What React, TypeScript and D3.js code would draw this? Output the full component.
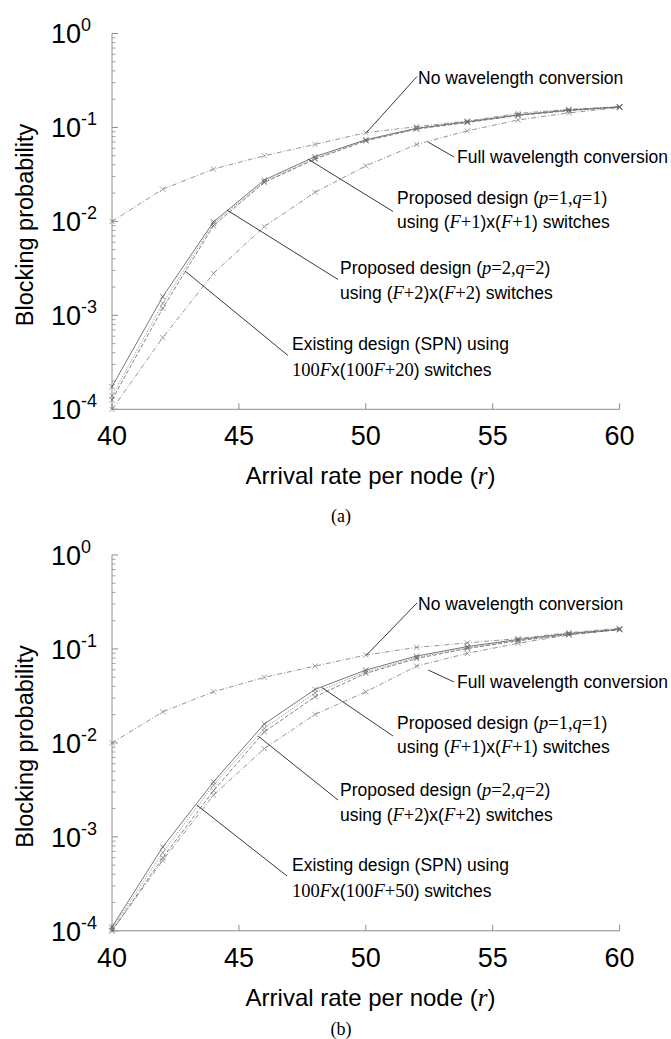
import React from 'react';
import * as d3 from 'd3';

// ---------- data ----------
const rates = [40, 42, 44, 46, 48, 50, 52, 54, 56, 58, 60];
const xTickValues = [40, 45, 50, 55, 60];
const yExponents = [-4, -3, -2, -1, 0];

// panel (a)
const noConvA = [0.0100, 0.0220, 0.0361, 0.0500, 0.0660, 0.0880, 0.1020, 0.1170, 0.1410, 0.1560, 0.1660];
const fullConvA = [0.000100, 0.00058, 0.0028, 0.0088, 0.0204, 0.0390, 0.0660, 0.0920, 0.1200, 0.1430, 0.1630];
const prop1A = [0.000174, 0.00158, 0.0099, 0.0276, 0.0489, 0.0740, 0.0980, 0.1150, 0.1360, 0.1530, 0.1660];
const prop2A = [0.000139, 0.00134, 0.0095, 0.0265, 0.0470, 0.0730, 0.0970, 0.1140, 0.1350, 0.1520, 0.1650];
const spnA = [0.000126, 0.00119, 0.0090, 0.0260, 0.0460, 0.0720, 0.0960, 0.1130, 0.1340, 0.1510, 0.1640];

// panel (b)
const noConvB = [0.0100, 0.0214, 0.0350, 0.0498, 0.0657, 0.0860, 0.1040, 0.1160, 0.1290, 0.1490, 0.1660];
const fullConvB = [0.000100, 0.00056, 0.00278, 0.0087, 0.0201, 0.0350, 0.0657, 0.0898, 0.1150, 0.1410, 0.1620];
const prop1B = [0.000110, 0.00078, 0.00385, 0.0159, 0.0371, 0.0596, 0.0840, 0.1060, 0.1260, 0.1460, 0.1620];
const prop2B = [0.000105, 0.00068, 0.00355, 0.0143, 0.0342, 0.0570, 0.0810, 0.1030, 0.1240, 0.1440, 0.1610];
const spnB = [0.000100, 0.00060, 0.00310, 0.0131, 0.0310, 0.0550, 0.0790, 0.1010, 0.1220, 0.1420, 0.1600];

// leader-line anchors on the curves (rate, probability)
const anchorsA = [[50.05, 0.0895], [52.45, 0.070], [47.72, 0.0461], [44.53, 0.0132], [42.88, 0.00296]];
const anchorsB = [[50.03, 0.0861], [52.46, 0.0596], [48.26, 0.039], [45.76, 0.0118], [43.34, 0.00218]];

// ---------- styles / layout ----------
const SANS = "'Liberation Sans', Arial, Helvetica, sans-serif";
const SERIF = "'Liberation Serif', 'Times New Roman', serif";
const AXIS = '#8c8c8c';

const seriesStyle = [
  { dash: '5,2,1,2', color: '#7a7a7a' }, // no conversion
  { dash: '5,2,1,2', color: '#7a7a7a' }, // full conversion
  { dash: '', color: '#555' },           // proposed p=1
  { dash: '1.2,1.5', color: '#777' },    // proposed p=2
  { dash: '4,2', color: '#666' },        // SPN
];

// annotation layout, relative to plot's left/top
type Ann = { tx: number; ty: number[]; lx: number; ly: number };
const layoutA: Ann[] = [
  { tx: 306, ty: [50.3], lx: 305, ly: 43 },
  { tx: 345, ty: [129.8], lx: 342, ly: 123.5 },
  { tx: 285, ty: [170.8, 194.8], lx: 281, ly: 178 },
  { tx: 228, ty: [240.3, 265.3], lx: 226, ly: 246 },
  { tx: 180, ty: [316.8, 342.8], lx: 176, ly: 322 },
];
const layoutB: Ann[] = [
  { tx: 306, ty: [55.3], lx: 305, ly: 48 },
  { tx: 345, ty: [133.3], lx: 342, ly: 127 },
  { tx: 285, ty: [173.8, 197.8], lx: 281, ly: 181 },
  { tx: 228, ty: [240.8, 265.8], lx: 226, ly: 245 },
  { tx: 180, ty: [316.3, 342.3], lx: 175, ly: 321 },
];

const W = 671;
const H = 1039;
const LEFT = 112;
const PW = 507.6;
const PH = 375.8;

function Ital({ children }: { children: React.ReactNode }) {
  return <tspan fontFamily={SERIF} fontStyle="italic" fontSize={18.5}>{children}</tspan>;
}
function Rom({ children }: { children: React.ReactNode }) {
  return <tspan fontFamily={SERIF} fontSize={18.5}>{children}</tspan>;
}

function Panel({ top, series, anchors, layout, label, labelOffset, spnExtra }: {
  top: number; series: number[][]; anchors: number[][]; layout: Ann[]; label: string; labelOffset: number; spnExtra: string;
}) {
  const x = d3.scaleLinear().domain([40, 60]).range([LEFT, LEFT + PW]);
  const y = d3.scaleLog().domain([1e-4, 1]).range([top + PH, top]);
  const line = d3.line<number>().x((_, i) => x(rates[i])).y((d) => y(d));
  const bottom = top + PH;

  const minor: number[] = [];
  for (let e = -4; e < 0; e++) for (let k = 2; k <= 9; k++) minor.push(k * Math.pow(10, e));

  const A = anchors.map((a) => [x(a[0]), y(a[1])]);
  const L = layout;

  const texts: React.ReactNode[][] = [
    [<>No wavelength conversion</>],
    [<>Full wavelength conversion</>],
    [
      <>Proposed design (<Ital>p</Ital><Rom>=1,</Rom><Ital>q</Ital><Rom>=1</Rom>)</>,
      <>using (<Ital>F</Ital><Rom>+1</Rom>)x(<Ital>F</Ital><Rom>+1</Rom>) switches</>,
    ],
    [
      <>Proposed design (<Ital>p</Ital><Rom>=2,</Rom><Ital>q</Ital><Rom>=2</Rom>)</>,
      <>using (<Ital>F</Ital><Rom>+2</Rom>)x(<Ital>F</Ital><Rom>+2</Rom>) switches</>,
    ],
    [
      <>Existing design (SPN) using</>,
      <><Rom>100</Rom><Ital>F</Ital>x(<Rom>100</Rom><Ital>F</Ital><Rom>{spnExtra}</Rom>) switches</>,
    ],
  ];

  return (
    <g>
      {/* axes */}
      <line x1={LEFT} x2={LEFT} y1={top} y2={bottom} stroke={AXIS} strokeWidth={1} />
      <line x1={LEFT} x2={LEFT + PW} y1={bottom} y2={bottom} stroke={AXIS} strokeWidth={1} />
      {minor.map((v, i) => (
        <line key={'m' + i} x1={LEFT} x2={LEFT + 3.5} y1={y(v)} y2={y(v)} stroke={AXIS} strokeWidth={0.8} />
      ))}
      {yExponents.map((e) => (
        <line key={'M' + e} x1={LEFT} x2={LEFT + 6} y1={y(Math.pow(10, e))} y2={y(Math.pow(10, e))} stroke={AXIS} strokeWidth={1} />
      ))}
      {xTickValues.map((t) => (
        <line key={'xt' + t} x1={x(t)} x2={x(t)} y1={bottom} y2={bottom - 6} stroke={AXIS} strokeWidth={1} />
      ))}
      {/* tick labels */}
      {yExponents.map((e) => (
        <text key={'yl' + e} x={51} y={y(Math.pow(10, e)) + 9.7} fontFamily={SANS} fontSize={27} fill="#000">
          10<tspan dy={-12} fontSize={18}>{e}</tspan>
        </text>
      ))}
      {xTickValues.map((t) => (
        <text key={'xl' + t} x={x(t)} y={bottom + 36} textAnchor="middle" fontFamily={SANS} fontSize={27} fill="#000">{t}</text>
      ))}
      {/* axis titles */}
      <text transform={`translate(33,${top + 191.5}) rotate(-90)`} textAnchor="middle" fontFamily={SANS} fontSize={23.5} fill="#000">
        Blocking probability
      </text>
      <text x={370.5} y={bottom + 75} textAnchor="middle" fontFamily={SANS} fontSize={24} fill="#000">
        Arrival rate per node (<tspan fontFamily={SERIF} fontStyle="italic" fontSize={25}>r</tspan>)
      </text>
      <text x={341} y={bottom + labelOffset} textAnchor="middle" fontFamily={SERIF} fontSize={18} fill="#000">{label}</text>

      {/* series */}
      {series.map((vals, si) => (
        <g key={'s' + si}>
          <path d={line(vals) || ''} fill="none" stroke={seriesStyle[si].color} strokeWidth={0.8}
            strokeDasharray={seriesStyle[si].dash || undefined} />
          {vals.map((v, i) => {
            const cx = x(rates[i]);
            const cy = y(v);
            const s = 2.6;
            return (
              <path key={i} d={`M${cx - s},${cy - s}L${cx + s},${cy + s}M${cx - s},${cy + s}L${cx + s},${cy - s}`}
                stroke={seriesStyle[si].color} strokeWidth={0.7} fill="none" />
            );
          })}
        </g>
      ))}

      {/* annotations */}
      <g stroke="#222" strokeWidth={0.9}>
        {L.map((a, i) => (
          <line key={'ld' + i} x1={A[i][0]} y1={A[i][1]} x2={LEFT + a.lx} y2={top + a.ly} />
        ))}
      </g>
      <g fontFamily={SANS} fontSize={17.5} fill="#000">
        {L.map((a, i) =>
          a.ty.map((ty, j) => (
            <text key={'t' + i + '-' + j} x={LEFT + a.tx} y={top + ty}>{texts[i][j]}</text>
          ))
        )}
      </g>
    </g>
  );
}

export default function App() {
  return (
    <svg width={W} height={H} viewBox={`0 0 ${W} ${H}`}
      style={{ position: 'absolute', left: 0, top: 0, background: '#fff' }}>
      <rect x={0} y={0} width={W} height={H} fill="#fff" />
      <Panel top={33.5} series={[noConvA, fullConvA, prop1A, prop2A, spnA]} anchors={anchorsA} layout={layoutA}
        label="(a)" labelOffset={113} spnExtra="+20" />
      <Panel top={555} series={[noConvB, fullConvB, prop1B, prop2B, spnB]} anchors={anchorsB} layout={layoutB}
        label="(b)" labelOffset={104} spnExtra="+50" />
    </svg>
  );
}
